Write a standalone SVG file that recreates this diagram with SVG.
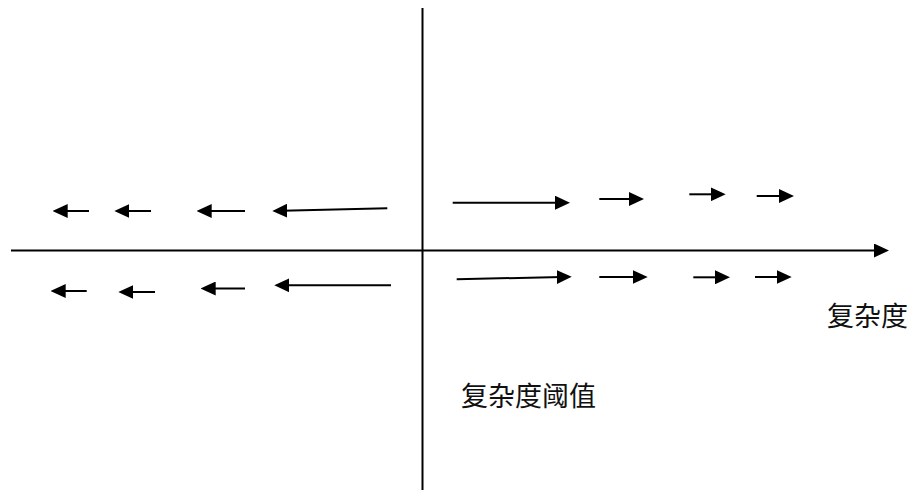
<svg xmlns="http://www.w3.org/2000/svg" width="911" height="490" viewBox="0 0 911 490">
<style>
.ln{stroke:#000;stroke-width:2;fill:none;marker-end:url(#ah)}
.ax{stroke:#000;stroke-width:2;fill:none}
.lbl{font-family:"Noto Sans CJK SC","Noto Sans CJK JP",sans-serif;font-size:27px;fill:#111}
</style>
<defs>
<marker id="ah" markerUnits="userSpaceOnUse" viewBox="0 0 15 14" markerWidth="15" markerHeight="14" refX="5" refY="7" orient="auto">
<path d="M0,0 L15,7 L0,14 z" fill="#000"/>
</marker>
</defs>
<rect width="911" height="490" fill="#fff"/>
<g id="axes">
<line class="ax" x1="422.5" y1="8" x2="422.5" y2="490"/>
<path class="ln" d="M11,250.5 L879,250.5"/>
</g>
<g id="connectors">
<path class="ln" d="M89,211 L62.7,211"/>
<path class="ln" d="M151,211 L124.3,211"/>
<path class="ln" d="M245,211 L206.7,211"/>
<path class="ln" d="M387.3,208.3 L282.3,210.8"/>
<path class="ln" d="M86.7,291 L60.7,291"/>
<path class="ln" d="M155,292 L128.3,292"/>
<path class="ln" d="M245,288.5 L210.7,288.5"/>
<path class="ln" d="M391,285.3 L284.3,285.3"/>
<path class="ln" d="M452.7,202.7 L560,202.7"/>
<path class="ln" d="M599.3,199 L634,199"/>
<path class="ln" d="M689.3,194.3 L715.7,194.3"/>
<path class="ln" d="M756.7,196 L784,196"/>
<path class="ln" d="M456.7,279.3 L561.7,276.9"/>
<path class="ln" d="M599.3,277 L637.7,277"/>
<path class="ln" d="M693.3,277.3 L720,277.3"/>
<path class="ln" d="M755,277 L781.7,277"/>
</g>
<g id="label-complexity">
<text class="lbl" x="827" y="326">复杂度</text>
</g>
<g id="label-threshold">
<text class="lbl" x="461" y="406">复杂度阈值</text>
</g>
</svg>
